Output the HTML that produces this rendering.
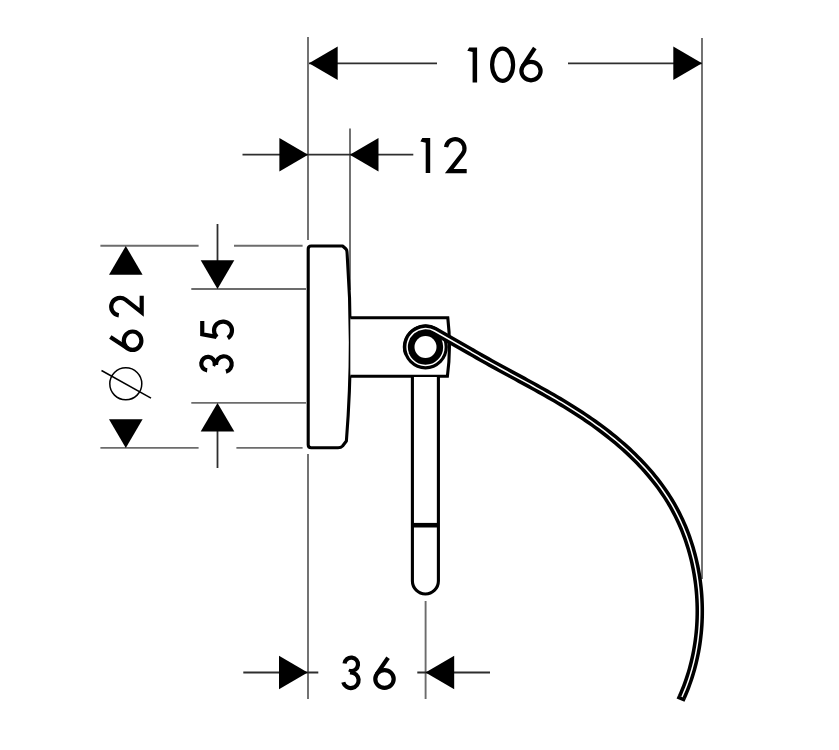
<!DOCTYPE html>
<html><head><meta charset="utf-8"><style>
html,body{margin:0;padding:0;background:#fff;width:839px;height:750px;overflow:hidden;font-family:"Liberation Sans",sans-serif;}
svg{display:block}
</style></head><body>
<svg width="839" height="750" viewBox="0 0 839 750">
<line x1="308" y1="37" x2="308" y2="240" stroke="#6c6c6c" stroke-width="1.9"/>
<line x1="308" y1="454" x2="308" y2="699" stroke="#6c6c6c" stroke-width="1.9"/>
<line x1="702" y1="38" x2="702" y2="579" stroke="#6c6c6c" stroke-width="1.9"/>
<line x1="350" y1="128.5" x2="350" y2="290" stroke="#6c6c6c" stroke-width="1.9"/>
<line x1="425.6" y1="601" x2="425.6" y2="699" stroke="#6c6c6c" stroke-width="1.9"/>
<line x1="100.4" y1="245.8" x2="198.6" y2="245.8" stroke="#6c6c6c" stroke-width="1.9"/>
<line x1="234" y1="245.8" x2="302.6" y2="245.8" stroke="#6c6c6c" stroke-width="1.9"/>
<line x1="100.4" y1="447.9" x2="198.6" y2="447.9" stroke="#6c6c6c" stroke-width="1.9"/>
<line x1="236.4" y1="447.9" x2="302.6" y2="447.9" stroke="#6c6c6c" stroke-width="1.9"/>
<line x1="191.3" y1="289" x2="306" y2="289" stroke="#6c6c6c" stroke-width="1.9"/>
<line x1="191.3" y1="402.9" x2="306" y2="402.9" stroke="#6c6c6c" stroke-width="1.9"/>
<line x1="309" y1="63.3" x2="437" y2="63.3" stroke="#2e2e2e" stroke-width="1.8"/>
<line x1="568" y1="63.3" x2="702" y2="63.3" stroke="#2e2e2e" stroke-width="1.8"/>
<line x1="242.5" y1="154.7" x2="413.3" y2="154.7" stroke="#2e2e2e" stroke-width="1.8"/>
<line x1="243.3" y1="672.5" x2="318.3" y2="672.5" stroke="#2e2e2e" stroke-width="1.8"/>
<line x1="417.3" y1="672.5" x2="490" y2="672.5" stroke="#2e2e2e" stroke-width="1.8"/>
<line x1="217.5" y1="224" x2="217.5" y2="262" stroke="#2e2e2e" stroke-width="1.8"/>
<line x1="217.5" y1="430" x2="217.5" y2="468" stroke="#2e2e2e" stroke-width="1.8"/>
<polygon points="309.00,63.30 337.70,46.50 337.70,80.10" fill="#000"/>
<polygon points="702.00,63.30 673.30,46.50 673.30,80.10" fill="#000"/>
<polygon points="308.10,154.70 279.40,137.90 279.40,171.50" fill="#000"/>
<polygon points="349.80,154.70 378.50,137.90 378.50,171.50" fill="#000"/>
<polygon points="307.70,672.50 279.00,655.70 279.00,689.30" fill="#000"/>
<polygon points="425.50,672.50 454.20,655.70 454.20,689.30" fill="#000"/>
<polygon points="125.80,246.00 109.00,274.70 142.60,274.70" fill="#000"/>
<polygon points="125.80,447.90 109.00,419.20 142.60,419.20" fill="#000"/>
<polygon points="217.50,288.90 200.70,260.20 234.30,260.20" fill="#000"/>
<polygon points="217.50,402.90 200.70,431.60 234.30,431.60" fill="#000"/>
<g transform="translate(467.3,82.4)"><path d="M0,-31.6 L1.9,-35 L9.80,-35 L9.8,0 L5.3,0 L5.3,-30.3 Z" fill="#000"/></g>
<g transform="translate(490.0,82.4)"><ellipse cx="12.6" cy="-17.7" rx="10.50" ry="16.10" fill="none" stroke="#000" stroke-width="4.2"/></g>
<g transform="translate(519.3,82.4)"><ellipse cx="11.7" cy="-11.3" rx="9.60" ry="9.20" fill="none" stroke="#000" stroke-width="4.2"/><path d="M15.5,-34.4 L3.57,-16.19" stroke="#000" stroke-width="4.2" stroke-linecap="butt" fill="none"/></g>
<g transform="translate(420.4,173.0)"><path d="M0,-31.6 L1.9,-35 L9.80,-35 L9.8,0 L5.3,0 L5.3,-30.3 Z" fill="#000"/></g>
<g transform="translate(443.9,173.1)"><path d="M2.09,-25.99 A9.3,9.3 0 1 1 18.63,-18.97 L5.3,-1.9 L22.8,-1.9" fill="none" stroke="#000" stroke-width="4.2" stroke-linejoin="miter"/></g>
<g transform="translate(341.0,689.9) scale(0.965)"><path d="M3.67,-27.38 A7.0,7.0 0 1 1 10.01,-19.56 L9.3,-18.3 M9.3,-18.2 L10.16,-18.15 A8.1,8.1 0 1 1 2.34,-7.95" fill="none" stroke="#000" stroke-width="4.352331606217617"/></g>
<g transform="translate(373.2,689.9) scale(0.965)"><ellipse cx="11.7" cy="-11.3" rx="9.52" ry="9.12" fill="none" stroke="#000" stroke-width="4.352331606217617"/><path d="M15.4,-33.3 L3.69,-16.38" stroke="#000" stroke-width="4.352331606217617" stroke-linecap="butt" fill="none"/></g>
<g transform="translate(234.0,342.0) rotate(-90) scale(0.965)"><path d="M21.8,-32.9 L8.0,-32.9 L5.29,-18.22 M4.99,-17.62 A9.3,9.3 0 1 1 4.01,-6.47" fill="none" stroke="#000" stroke-width="4.352331606217617" stroke-linejoin="miter"/></g>
<g transform="translate(233.6,373.9) rotate(-90) scale(0.965)"><path d="M3.67,-27.38 A7.0,7.0 0 1 1 10.01,-19.56 L9.3,-18.3 M9.3,-18.2 L10.16,-18.15 A8.1,8.1 0 1 1 2.34,-7.95" fill="none" stroke="#000" stroke-width="4.352331606217617"/></g>
<g transform="translate(143.5,317.4) rotate(-90) scale(0.95)"><path d="M2.09,-25.99 A9.3,9.3 0 1 1 18.63,-18.97 L5.3,-1.9 L22.8,-1.9" fill="none" stroke="#000" stroke-width="4.421052631578948" stroke-linejoin="miter"/></g>
<g transform="translate(143.5,352.0) rotate(-90) scale(0.965)"><ellipse cx="11.7" cy="-11.3" rx="9.52" ry="9.12" fill="none" stroke="#000" stroke-width="4.352331606217617"/><path d="M15.5,-34.4 L3.57,-16.19" stroke="#000" stroke-width="4.352331606217617" stroke-linecap="butt" fill="none"/></g>
<circle cx="125.8" cy="383.8" r="16.0" fill="none" stroke="#000" stroke-width="1.5"/>
<line x1="101.5" y1="370.5" x2="151" y2="398.2" stroke="#000" stroke-width="1.5"/>
<path d="M308.2,249 Q308.2,246 311.2,246 L342.6,246 L346.0,249.0 Q347,250.2 347,252 Q354,346 346.4,441 L342.6,446 Q341,447.7 338,447.7 L311.2,447.7 Q308.2,447.7 308.2,444.7 Z" fill="#fff" stroke="#000" stroke-width="3.1" stroke-linejoin="round"/>
<path d="M350.3,317.7 L447.8,317.7 Q451.3,347 447.4,376.3 L350.3,376.3" fill="#fff" stroke="#000" stroke-width="3.1" stroke-linejoin="miter"/>
<path d="M412.4,377 L412.4,581 A13,13 0 0 0 438.4,581 L438.4,377" fill="#fff" stroke="#000" stroke-width="3.1"/>
<line x1="412.4" y1="525.2" x2="438.4" y2="525.2" stroke="#000" stroke-width="4.6"/>
<circle cx="425.5" cy="347" r="22.4" fill="#000"/>
<circle cx="425.5" cy="347" r="18.4" fill="none" stroke="#fff" stroke-width="1.5"/>
<circle cx="425.5" cy="347" r="11" fill="#fff"/>
<path d="M408.21,353.29 A18.4,18.4 0 0 1 434.60,331.01 L470.50,351.45 L471.54,352.06 L474.69,353.90 L477.85,355.72 L481.03,357.53 L484.22,359.33 L487.42,361.12 L490.64,362.91 L493.86,364.69 L497.09,366.46 L500.33,368.24 L503.58,370.01 L506.84,371.78 L510.10,373.54 L513.36,375.31 L516.63,377.08 L519.90,378.86 L523.18,380.64 L526.45,382.42 L529.72,384.21 L532.99,386.01 L536.26,387.82 L539.53,389.64 L542.79,391.46 L546.04,393.30 L549.29,395.16 L552.53,397.02 L555.77,398.91 L558.99,400.81 L562.20,402.72 L565.41,404.66 L568.60,406.61 L571.77,408.59 L574.94,410.59 L578.08,412.61 L581.21,414.66 L584.33,416.73 L587.43,418.82 L590.50,420.95 L593.56,423.10 L596.59,425.27 L599.60,427.47 L602.59,429.70 L605.55,431.96 L608.49,434.24 L611.40,436.55 L614.28,438.90 L617.13,441.27 L619.95,443.66 L622.73,446.09 L625.49,448.55 L628.21,451.04 L630.89,453.56 L633.54,456.11 L636.15,458.69 L638.72,461.30 L641.25,463.94 L643.74,466.62 L646.19,469.33 L648.59,472.07 L650.95,474.84 L653.27,477.65 L655.54,480.49 L657.76,483.37 L659.93,486.27 L662.05,489.22 L664.12,492.20 L666.13,495.21 L668.10,498.26 L670.00,501.35 L671.86,504.47 L673.65,507.63 L675.39,510.82 L677.07,514.06 L678.69,517.32 L680.25,520.62 L681.75,523.95 L683.20,527.32 L684.58,530.71 L685.91,534.13 L687.17,537.58 L688.38,541.05 L689.52,544.55 L690.61,548.08 L691.63,551.62 L692.60,555.19 L693.51,558.77 L694.35,562.38 L695.14,566.00 L695.86,569.63 L696.52,573.28 L697.12,576.95 L697.66,580.63 L698.14,584.31 L698.56,588.01 L698.92,591.72 L699.21,595.43 L699.44,599.15 L699.61,602.87 L699.72,606.60 L699.77,610.33 L699.75,614.06 L699.67,617.79 L699.53,621.52 L699.33,625.24 L699.06,628.96 L698.73,632.68 L698.33,636.39 L697.88,640.09 L697.35,643.78 L696.77,647.46 L696.12,651.13 L695.41,654.79 L694.63,658.43 L693.79,662.06 L692.88,665.67 L691.91,669.26 L690.88,672.83 L689.78,676.39 L688.61,679.92 L687.38,683.43 L686.09,686.91 L684.72,690.37 L683.30,693.80 L681.81,697.21 L681.81,697.21" fill="none" stroke="#000" stroke-width="8.6" stroke-linejoin="round"/>
<path d="M408.21,353.29 A18.4,18.4 0 0 1 434.60,331.01 L470.50,351.45 L471.54,352.06 L474.69,353.90 L477.85,355.72 L481.03,357.53 L484.22,359.33 L487.42,361.12 L490.64,362.91 L493.86,364.69 L497.09,366.46 L500.33,368.24 L503.58,370.01 L506.84,371.78 L510.10,373.54 L513.36,375.31 L516.63,377.08 L519.90,378.86 L523.18,380.64 L526.45,382.42 L529.72,384.21 L532.99,386.01 L536.26,387.82 L539.53,389.64 L542.79,391.46 L546.04,393.30 L549.29,395.16 L552.53,397.02 L555.77,398.91 L558.99,400.81 L562.20,402.72 L565.41,404.66 L568.60,406.61 L571.77,408.59 L574.94,410.59 L578.08,412.61 L581.21,414.66 L584.33,416.73 L587.43,418.82 L590.50,420.95 L593.56,423.10 L596.59,425.27 L599.60,427.47 L602.59,429.70 L605.55,431.96 L608.49,434.24 L611.40,436.55 L614.28,438.90 L617.13,441.27 L619.95,443.66 L622.73,446.09 L625.49,448.55 L628.21,451.04 L630.89,453.56 L633.54,456.11 L636.15,458.69 L638.72,461.30 L641.25,463.94 L643.74,466.62 L646.19,469.33 L648.59,472.07 L650.95,474.84 L653.27,477.65 L655.54,480.49 L657.76,483.37 L659.93,486.27 L662.05,489.22 L664.12,492.20 L666.13,495.21 L668.10,498.26 L670.00,501.35 L671.86,504.47 L673.65,507.63 L675.39,510.82 L677.07,514.06 L678.69,517.32 L680.25,520.62 L681.75,523.95 L683.20,527.32 L684.58,530.71 L685.91,534.13 L687.17,537.58 L688.38,541.05 L689.52,544.55 L690.61,548.08 L691.63,551.62 L692.60,555.19 L693.51,558.77 L694.35,562.38 L695.14,566.00 L695.86,569.63 L696.52,573.28 L697.12,576.95 L697.66,580.63 L698.14,584.31 L698.56,588.01 L698.92,591.72 L699.21,595.43 L699.44,599.15 L699.61,602.87 L699.72,606.60 L699.77,610.33 L699.75,614.06 L699.67,617.79 L699.53,621.52 L699.33,625.24 L699.06,628.96 L698.73,632.68 L698.33,636.39 L697.88,640.09 L697.35,643.78 L696.77,647.46 L696.12,651.13 L695.41,654.79 L694.63,658.43 L693.79,662.06 L692.88,665.67 L691.91,669.26 L690.88,672.83 L689.78,676.39 L688.61,679.92 L687.38,683.43 L686.09,686.91 L684.72,690.37 L683.30,693.80 L681.81,697.21 L681.81,697.21" fill="none" stroke="#fff" stroke-width="1.5"/>
<line x1="681.93" y1="696.93" x2="680.52" y2="700.14" stroke="#000" stroke-width="8.6" stroke-linecap="butt"/>
</svg>
</body></html>
